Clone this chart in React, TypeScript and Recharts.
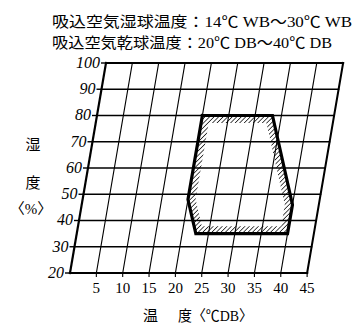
import { ComposedChart, Line, Scatter, XAxis, YAxis } from 'recharts';

const W = 363;
const H = 325;

// 目盛
const tempTicks = [5, 10, 15, 20, 25, 30, 35, 40, 45];
const rhTicks = [20, 30, 40, 50, 60, 70, 80, 90, 100];
const tempMin = 0;
const tempMax = 45;
const rhMin = 20;
const rhMax = 100;

// 使用範囲 (乾球温度 ℃DB, 湿度 %)
const rangeTemp = [20, 33.3, 40, 40, 22.6, 20, 20];
const rangeRh = [80, 80, 46, 35, 35, 48, 80];

// 斜めの格子: 湿度1%あたりの温度方向のずれ
const SKEW = 0.0854;
const sx = (t: number, rh: number) => t + SKEW * (rh - rhMin);

const ink = '#000';
const serif = '"Liberation Serif", "DejaVu Serif", serif';
const jp = '"Liberation Serif", "Noto Sans CJK JP", sans-serif';

const seg = (a: [number, number], b: [number, number]) => [
  { x: sx(a[0], a[1]), y: a[1] },
  { x: sx(b[0], b[1]), y: b[1] },
];

const gridLines = [
  ...tempTicks
    .filter((t) => t < tempMax)
    .map((t) => ({ id: `v${t}`, w: 1.1, data: seg([t, rhMin], [t, rhMax]) })),
  ...rhTicks
    .filter((r) => r > rhMin && r < rhMax)
    .map((r) => ({ id: `h${r}`, w: 1.4, data: seg([tempMin, r], [tempMax, r]) })),
  { id: 'left', w: 2.2, data: seg([tempMin, rhMin], [tempMin, rhMax]) },
  { id: 'right', w: 2, data: seg([tempMax, rhMin], [tempMax, rhMax]) },
  { id: 'bottom', w: 2.2, data: seg([tempMin, rhMin], [tempMax, rhMin]) },
  { id: 'top', w: 2, data: seg([tempMin, rhMax], [tempMax, rhMax]) },
];

const yLabels = rhTicks.map((r) => ({ x: sx(tempMin, r), y: r, label: String(r) }));

const rangeData = rangeTemp.map((t, i) => ({ x: sx(t, rangeRh[i]), y: rangeRh[i] }));

function YLabel(props: any) {
  const { cx, cy, payload } = props;
  return (
    <g>
      <line x1={cx - 5} y1={cy} x2={cx} y2={cy} stroke={ink} strokeWidth={1.4} />
      <text x={cx - 6} y={cy} dy="0.3em" textAnchor="end" fill={ink}
        style={{ fontFamily: serif, fontStyle: 'italic', fontSize: 16 }}>
        {payload.label}
      </text>
    </g>
  );
}

// 枠の内側の斜線帯
function HatchBand(props: any) {
  const { index, points } = props;
  if (index !== 0 || !points) return <g key={`d${index}`} />;
  const poly = points.map((p: any) => `${p.x},${p.y}`).join(' ');
  return (
    <g key="hatch">
      <defs>
        <pattern id="hatch" patternUnits="userSpaceOnUse" width={3.2} height={3.2}
          patternTransform="rotate(45)">
          <line x1={0} y1={0} x2={0} y2={3.2} stroke={ink} strokeWidth={1.4} />
        </pattern>
        <clipPath id="rangeClip">
          <polygon points={poly} />
        </clipPath>
      </defs>
      <polygon points={poly} fill="none" stroke="url(#hatch)" strokeWidth={15}
        clipPath="url(#rangeClip)" />
    </g>
  );
}

export default function App() {
  return (
    <div style={{ position: 'absolute', left: 0, top: 0, width: W, height: H, background: '#fff' }}>
      <ComposedChart width={W} height={H} margin={{ top: 63, right: 19, bottom: 22, left: 70 }}>
        <XAxis dataKey="x" type="number" domain={[0, 52]} ticks={tempTicks} interval={0}
          axisLine={false} tickLine={{ stroke: ink, strokeWidth: 1.1 }} tickSize={4} tickMargin={5}
          tick={{ fontSize: 15, fontFamily: serif, fill: ink }} height={30} />
        <YAxis dataKey="y" type="number" domain={[rhMin, rhMax]} hide />
        {gridLines.map((g) => (
          <Line key={g.id} data={g.data} dataKey="y" stroke={ink} strokeWidth={g.w}
            strokeLinecap="square" dot={false} activeDot={false} legendType="none"
            isAnimationActive={false} />
        ))}
        <Line data={rangeData} dataKey="y" stroke={ink} strokeWidth={3.2}
          strokeLinejoin="miter" strokeLinecap="square" dot={(p: any) => <HatchBand {...p} />}
          activeDot={false} legendType="none" isAnimationActive={false} />
        <Scatter data={yLabels} dataKey="y" shape={(p: any) => <YLabel {...p} />}
          legendType="none" isAnimationActive={false} />
      </ComposedChart>

      <svg width={W} height={H} style={{ position: 'absolute', left: 0, top: 0, pointerEvents: 'none' }}>
        <text x={52} y={27} fontSize={15} fontFamily={jp} fill={ink} textLength={300}
          lengthAdjust="spacingAndGlyphs">吸込空気湿球温度：14℃ WB～30℃ WB</text>
        <text x={52} y={48} fontSize={15} fontFamily={jp} fill={ink} textLength={280}
          lengthAdjust="spacingAndGlyphs">吸込空気乾球温度：20℃ DB～40℃ DB</text>
        <text x={33} y={150} fontSize={15} fontFamily={jp} fill={ink} textAnchor="middle">湿</text>
        <text x={33} y={188} fontSize={15} fontFamily={jp} fill={ink} textAnchor="middle">度</text>
        <text x={31} y={214} fontSize={15} fontFamily={jp} fill={ink} textAnchor="middle">〈%〉</text>
        <text x={143} y={321} fontSize={15} fontFamily={jp} fill={ink}>温</text>
        <text x={178} y={321} fontSize={15} fontFamily={jp} fill={ink} textLength={75}
          lengthAdjust="spacingAndGlyphs">度〈℃DB〉</text>
      </svg>
    </div>
  );
}
